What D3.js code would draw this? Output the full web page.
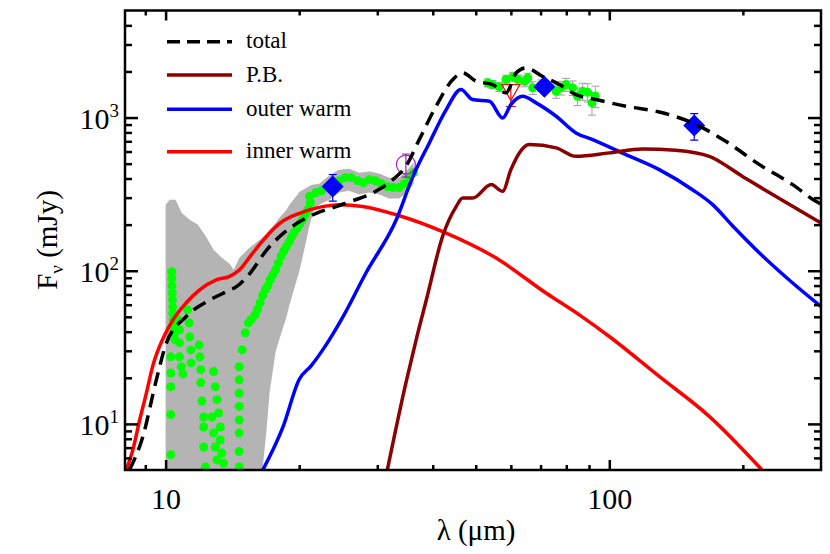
<!DOCTYPE html>
<html>
<head>
<meta charset="utf-8">
<script src="https://cdn.jsdelivr.net/npm/d3@7"></script>
<style>
  body { margin: 0; background: #fff; }
</style>
</head>
<body>
<div id="vis"></div>
<script>
// frame
const FRAME_WIDTH = 830;
const FRAME_HEIGHT = 554;
const MARGINS = { left: 125, right: 9, top: 10.5, bottom: 84 };
const SERIF = "'Liberation Serif', 'Times New Roman', Tinos, 'DejaVu Serif', serif";

// axis limits (micron, mJy)
const X_LIMITS = [8.1, 300];
const Y_LIMITS = [5, 5000];
const xMajor = [10, 100];
const xMinor = [9, 20, 30, 40, 50, 60, 70, 80, 90, 200];
const yMajor = [10, 100, 1000];
const yMinor = [6, 7, 8, 9, 20, 30, 40, 50, 60, 70, 80, 90,
                200, 300, 400, 500, 600, 700, 800, 900, 2000, 3000, 4000];

// model: total
const totalWave = [8.29, 8.89, 9.53, 10.04, 11.13, 12.61, 13.74, 14.47, 15.51, 16.91, 18.44, 20.11,
                   21.92, 24.3, 25.5, 29.3, 32.5, 34.8, 37.3, 40.7, 44.4, 46.7, 50.1, 54.6, 58.5,
                   61.7, 64.9, 70.6, 77.2, 84.1, 93.3, 109, 129.6, 154, 183, 218, 259, 292, 300];
const totalFlux = [5.0, 8.3, 19.4, 33.7, 50.3, 64.6, 73.2, 79, 96.6, 137, 176, 210,
                   238, 263, 277, 322, 393, 481, 718, 1186, 1770, 1959, 1727, 1643, 1450,
                   1960, 2113, 1862, 1643, 1413, 1311, 1186, 1087, 923, 700, 493, 365, 284, 272];

// model: P.B.
const pbWave = [31.6, 34.8, 36.7, 38.7, 42.1, 45.2, 46.7, 49.2, 54.2, 57.5, 60.0, 62.7, 66.0,
                75.9, 84.1, 100, 118.9, 141, 168, 199.5, 237, 300];
const pbFlux = [5, 18.5, 35.4, 64.6, 167.5, 263, 298, 298, 365, 330, 457, 588, 666,
                634, 558, 588, 624, 611, 558, 413, 306, 205];

// model: outer warm
const outerWave = [16.56, 18.4, 20.0, 21.3, 22.7, 25.1, 28.3, 33.1, 36.1, 39.3, 42.9, 46.3, 49.2,
                   53.7, 57.5, 60.0, 63.8, 68.4, 75.9, 84.1, 91.7, 109, 129.6, 154, 171, 190,
                   218, 259, 300];
const outerFlux = [5, 9.6, 19.5, 24, 31, 50, 97, 215, 413, 683, 1127, 1524, 1311,
                   1278, 995, 1216, 1377, 1247, 1020, 794, 718, 573, 457, 338, 270, 195,
                   130.5, 83.1, 58.4];

// model: inner warm
const innerWave = [8.155, 8.44, 8.74, 9.05, 9.36, 9.86, 10.39, 11.13, 11.93, 13.01, 13.94, 14.68,
                   15.51, 16.62, 18.13, 20.11, 22.7, 24.75, 27.8, 33.1, 42.9, 55.6, 72.0, 85.6,
                   100, 129.6, 168, 221];
const innerFlux = [5.0, 6.8, 10.6, 15.9, 24, 36, 47.8, 61.8, 75.1, 87.3, 91.8, 101.5,
                   124, 159, 205, 238, 263, 270, 263, 232, 176, 121, 71.5, 51.5,
                   37.2, 20.4, 11.2, 5.0];

// IRS spectrum points
const irsWave = [10.33, 10.33, 10.34, 10.35, 10.36, 10.37, 10.38, 10.40, 10.43, 10.46, 10.50,
                 10.27, 10.27, 10.27, 10.27, 10.27,
                 10.66, 10.75, 10.75, 10.75, 10.85, 10.94,
                 11.2, 11.3, 11.33, 11.4, 11.42,
                 11.9, 11.95, 12.0, 12.0, 12.07, 12.18, 12.18, 12.18, 12.29,
                 12.72, 12.83, 12.83, 12.94, 12.94, 13.05, 13.05, 13.16, 13.28, 13.28, 13.39, 13.51,
                 14.65, 14.65, 14.65, 14.65, 14.65, 14.65, 14.65, 14.65,
                 14.87, 15.12, 15.37, 15.6, 15.9, 16.1, 16.33, 16.55, 16.77, 17.0, 17.22, 17.45,
                 17.7, 17.95, 18.2, 18.45, 18.72, 19.0, 19.25, 19.5, 19.79, 20.05, 20.35, 20.6,
                 20.9, 21.2,
                 21.1, 21.8, 22.45, 23.2, 23.9, 24.6, 25.4, 26.2, 27.1, 27.9, 28.8, 29.7,
                 30.6, 31.6, 32.6, 33.6, 34.5, 35.4, 36.2];
const irsFlux = [98.5, 88.6, 79.7, 71.6, 64.6, 58.1, 52.6, 47.8, 43.0, 38.7, 35.4,
                 27.4, 21.5, 17.5, 11.5, 6.3,
                 47.8, 41.2, 33.8, 27.4, 23.6, 21.2,
                 55.6, 45.7, 37.0, 30.4, 25.0,
                 32.7, 27.4, 22.6, 18.6, 14.1, 11.1, 9.55, 7.07, 5.24,
                 11.1, 22.0, 8.73, 17.5, 7.07, 14.4, 5.82, 11.8, 9.55, 7.85, 6.45, 5.53,
                 23.6, 19.4, 15.9, 13.0, 10.6, 8.73, 6.6, 5.24,
                 30.4, 39.3, 45.7, 48, 51.5, 56, 61.8, 68.9, 75.1, 80, 87.3, 94,
                 101.5, 112, 124, 134, 144, 155, 167, 178, 190, 202, 215, 232,
                 250, 278,
                 305, 323, 333, 349, 370, 387, 405, 405, 387, 376, 393, 387,
                 370, 354, 349, 349, 370, 405, 437];

// IRS error envelope
const irsErrWave = [10.0, 10.21, 10.53, 10.87, 11.33, 11.81, 12.3, 12.83, 13.37, 13.94, 14.24, 14.68,
                    15.46, 16.28, 16.53, 16.88, 17.15, 17.7, 18.06, 18.73, 19.02, 19.75, 20.03,
                    20.7, 21.1, 21.6, 22.2, 23.4, 24.6, 25.9, 27.3, 28.8, 30.3, 31.9, 33.6, 35.1, 36.2];
const irsErrHi = [270, 291, 291, 239, 215, 200, 169, 137, 122, 111, 101.5, 122,
                  141, 159, 165, 175, 185, 205, 222, 250, 270, 310, 328,
                  345, 359, 365, 370, 418, 457, 464, 437, 444, 431, 405, 405, 457, 508];
const irsErrLo = [1, 1, 1, 1, 1, 1, 1, 1, 1, 1, 1, 1,
                  1, 1, 5, 9.1, 16, 29.6, 36, 50, 60, 87, 100,
                  152, 197, 251, 270, 291, 324, 333, 314, 324, 314, 296, 296, 324, 370];

// MIPS SED points
const sedWave = [53.2, 54.5, 56.5, 58.5, 60.6, 62.2, 64.4, 65.5, 67.2, 70.2, 75.9, 77.8, 79.9,
                 82.7, 84.8, 87.1, 89.4, 91.4, 93.0];
const sedFlux = [1686, 1643, 1588, 1772, 1845, 1772, 1728, 1817, 1563, 1619, 1486, 1563, 1643,
                 1563, 1377, 1486, 1463, 1247, 1382];
const sedErr = [100, 100, 110, 120, 130, 130, 140, 130, 150, 140, 150, 160, 160,
                170, 180, 190, 200, 210, 220];

// photometry
const photWave = [23.8, 71.4, 155.4];
const photFlux = [355, 1590, 887];
const photErr = [70, 0, 175];
const circWave = [34.8];
const circFlux = [493];
const circErr = [85];
const limWave = [60];
const limFlux = [1525];

// legend
const legendNames = ["total", "P.B.", "outer warm", "inner warm"];
const legendColors = ["#000000", "#8b0000", "#0000ff", "#ff0000"];

const X_SCALE = d3.scaleLog().domain(X_LIMITS).range([MARGINS.left, FRAME_WIDTH - MARGINS.right]);
const Y_SCALE = d3.scaleLog().domain(Y_LIMITS).range([FRAME_HEIGHT - MARGINS.bottom, MARGINS.top]);

const FRAME = d3.select("#vis")
    .append("svg")
    .attr("width", FRAME_WIDTH)
    .attr("height", FRAME_HEIGHT)
    .style("font-family", SERIF);

FRAME.append("clipPath").attr("id", "plotclip")
    .append("rect")
    .attr("x", MARGINS.left).attr("y", MARGINS.top)
    .attr("width", FRAME_WIDTH - MARGINS.left - MARGINS.right)
    .attr("height", FRAME_HEIGHT - MARGINS.top - MARGINS.bottom);

const PLOT = FRAME.append("g").attr("clip-path", "url(#plotclip)");

const zip = (xs, ys) => xs.map((x, i) => [x, ys[i]]);

// gray error envelope of the spectrum
const errArea = d3.area()
    .x(d => X_SCALE(d[0]))
    .y0(d => Y_SCALE(d[1]))
    .y1(d => Y_SCALE(d[2]));
PLOT.append("path")
    .datum(irsErrWave.map((w, i) => [w, irsErrLo[i], irsErrHi[i]]))
    .attr("d", errArea)
    .attr("fill", "#b4b4b4");

PLOT.selectAll(".irs")
    .data(zip(irsWave, irsFlux))
    .enter()
    .append("circle")
    .attr("cx", d => X_SCALE(d[0]))
    .attr("cy", d => Y_SCALE(d[1]))
    .attr("r", 4.5)
    .attr("fill", "#00ff00");

// MIPS SED error bars then points
const sed = sedWave.map((w, i) => ({ w: w, f: sedFlux[i], e: sedErr[i] }));
const sedBars = PLOT.selectAll(".sedbar").data(sed).enter().append("g")
    .attr("stroke", "#a0a0a0").attr("stroke-width", 1);
sedBars.append("line")
    .attr("x1", d => X_SCALE(d.w)).attr("x2", d => X_SCALE(d.w))
    .attr("y1", d => Y_SCALE(d.f + d.e)).attr("y2", d => Y_SCALE(d.f - d.e));
sedBars.append("line")
    .attr("x1", d => X_SCALE(d.w) - 4).attr("x2", d => X_SCALE(d.w) + 4)
    .attr("y1", d => Y_SCALE(d.f + d.e)).attr("y2", d => Y_SCALE(d.f + d.e));
sedBars.append("line")
    .attr("x1", d => X_SCALE(d.w) - 4).attr("x2", d => X_SCALE(d.w) + 4)
    .attr("y1", d => Y_SCALE(d.f - d.e)).attr("y2", d => Y_SCALE(d.f - d.e));
PLOT.selectAll(".sed").data(sed).enter().append("circle")
    .attr("cx", d => X_SCALE(d.w))
    .attr("cy", d => Y_SCALE(d.f))
    .attr("r", 4.5)
    .attr("fill", "#00ff00");

// error bar helper
function errBar(sel, color, w, f, e) {
    const g = sel.append("g").attr("stroke", color).attr("stroke-width", 1.2);
    const x = X_SCALE(w);
    const y1 = Y_SCALE(f + e), y2 = Y_SCALE(f - e);
    g.append("line").attr("x1", x).attr("x2", x).attr("y1", y1).attr("y2", y2);
    g.append("line").attr("x1", x - 4).attr("x2", x + 4).attr("y1", y1).attr("y2", y1);
    g.append("line").attr("x1", x - 4).attr("x2", x + 4).attr("y1", y2).attr("y2", y2);
}

// photometry diamonds
photWave.forEach((w, i) => {
    if (photErr[i] > 0) errBar(PLOT, "#0000ff", w, photFlux[i], photErr[i]);
});
PLOT.selectAll(".phot").data(zip(photWave, photFlux)).enter().append("path")
    .attr("transform", d => `translate(${X_SCALE(d[0])},${Y_SCALE(d[1])})`)
    .attr("d", "M0,-11L11,0L0,11L-11,0Z")
    .attr("fill", "#0000ff");

// open circle
circWave.forEach((w, i) => errBar(PLOT, "#a020c0", w, circFlux[i], circErr[i]));
PLOT.selectAll(".circ").data(zip(circWave, circFlux)).enter().append("circle")
    .attr("cx", d => X_SCALE(d[0]))
    .attr("cy", d => Y_SCALE(d[1]))
    .attr("r", 9.5)
    .attr("fill", "none")
    .attr("stroke", "#a020c0")
    .attr("stroke-width", 1.2);

// upper limit triangle
limWave.forEach((w, i) => {
    const x = X_SCALE(w), y = Y_SCALE(limFlux[i]);
    const g = PLOT.append("g").attr("stroke", "#ff0000").attr("stroke-width", 1.2).attr("fill", "none");
    g.append("path").attr("d", `M${x - 9},${y - 5}L${x + 9},${y - 5}L${x},${y + 11}Z`);
    g.append("line").attr("x1", x).attr("x2", x).attr("y1", y - 5).attr("y2", y + 17);
    g.append("line").attr("x1", x - 5).attr("x2", x + 5).attr("y1", y + 17).attr("y2", y + 17);
});

// model curves
const line = d3.line()
    .x(d => X_SCALE(d[0]))
    .y(d => Y_SCALE(d[1]))
    .curve(d3.curveMonotoneX);

const curves = [
    { data: zip(innerWave, innerFlux), color: "#ff0000", dash: null },
    { data: zip(outerWave, outerFlux), color: "#0000ff", dash: null },
    { data: zip(pbWave, pbFlux), color: "#8b0000", dash: null },
    { data: zip(totalWave, totalFlux), color: "#000000", dash: "14,8" }
];
curves.forEach(c => {
    PLOT.append("path")
        .datum(c.data)
        .attr("d", line)
        .attr("fill", "none")
        .attr("stroke", c.color)
        .attr("stroke-width", 3.5)
        .attr("stroke-dasharray", c.dash);
});

// axes: ticks pointing inward on all four sides
const bottomY = FRAME_HEIGHT - MARGINS.bottom;
const rightX = FRAME_WIDTH - MARGINS.right;

function addAxis(axis, transform) {
    const g = FRAME.append("g")
        .attr("transform", transform)
        .call(axis)
        .attr("font-family", null);
    g.select(".domain").remove();
    g.selectAll("line").attr("stroke", "#000").attr("stroke-width", 2.5);
    return g;
}

const xLab = addAxis(d3.axisBottom(X_SCALE).tickValues(xMajor).tickSize(-10).tickPadding(18)
    .tickFormat(d3.format("d")), `translate(0,${bottomY})`);
xLab.selectAll("text")
    .attr("font-size", 30)
    .attr("fill", "#000")
    .style("font-family", SERIF);
addAxis(d3.axisBottom(X_SCALE).tickValues(xMinor).tickSize(-5).tickFormat(""), `translate(0,${bottomY})`);
addAxis(d3.axisTop(X_SCALE).tickValues(xMajor).tickSize(-10).tickFormat(""), `translate(0,${MARGINS.top})`);
addAxis(d3.axisTop(X_SCALE).tickValues(xMinor).tickSize(-5).tickFormat(""), `translate(0,${MARGINS.top})`);
addAxis(d3.axisLeft(Y_SCALE).tickValues(yMajor).tickSize(-13).tickFormat(""), `translate(${MARGINS.left},0)`);
addAxis(d3.axisLeft(Y_SCALE).tickValues(yMinor).tickSize(-7).tickFormat(""), `translate(${MARGINS.left},0)`);
addAxis(d3.axisRight(Y_SCALE).tickValues(yMajor).tickSize(-13).tickFormat(""), `translate(${rightX},0)`);
addAxis(d3.axisRight(Y_SCALE).tickValues(yMinor).tickSize(-7).tickFormat(""), `translate(${rightX},0)`);

// y tick labels as powers of ten
yMajor.forEach(v => {
    const t = FRAME.append("text")
        .attr("x", MARGINS.left - 6)
        .attr("y", Y_SCALE(v) + 11)
        .attr("text-anchor", "end")
        .attr("font-size", 30)
        .style("font-family", SERIF);
    t.append("tspan").text("10");
    t.append("tspan").attr("dy", -12).attr("font-size", 19).text(Math.round(Math.log10(v)));
});

// frame
FRAME.append("rect")
    .attr("x", MARGINS.left).attr("y", MARGINS.top)
    .attr("width", FRAME_WIDTH - MARGINS.left - MARGINS.right)
    .attr("height", FRAME_HEIGHT - MARGINS.top - MARGINS.bottom)
    .attr("fill", "none")
    .attr("stroke", "#000")
    .attr("stroke-width", 2.5);

// axis titles
FRAME.append("text")
    .attr("x", 476).attr("y", 540)
    .attr("text-anchor", "middle")
    .attr("font-size", 29)
    .style("font-family", SERIF)
    .text("λ (μm)");

const yTitle = FRAME.append("text")
    .attr("transform", "translate(57,240) rotate(-90)")
    .attr("text-anchor", "middle")
    .attr("font-size", 29)
    .style("font-family", SERIF);
yTitle.append("tspan").text("F");
yTitle.append("tspan").attr("font-size", 19).attr("dy", 6).text("ν");
yTitle.append("tspan").attr("dy", -6).text(" (mJy)");

// legend
const legendY = [41.7, 75, 109.3, 151.7];
legendNames.forEach((name, i) => {
    FRAME.append("line")
        .attr("x1", 167).attr("x2", 232)
        .attr("y1", legendY[i]).attr("y2", legendY[i])
        .attr("stroke", legendColors[i])
        .attr("stroke-width", 3.5)
        .attr("stroke-dasharray", i === 0 ? "13,7" : null);
    FRAME.append("text")
        .attr("x", 246).attr("y", legendY[i] + 6.5)
        .attr("font-size", 23)
        .style("font-family", SERIF)
        .text(name);
});
</script>
</body>
</html>
